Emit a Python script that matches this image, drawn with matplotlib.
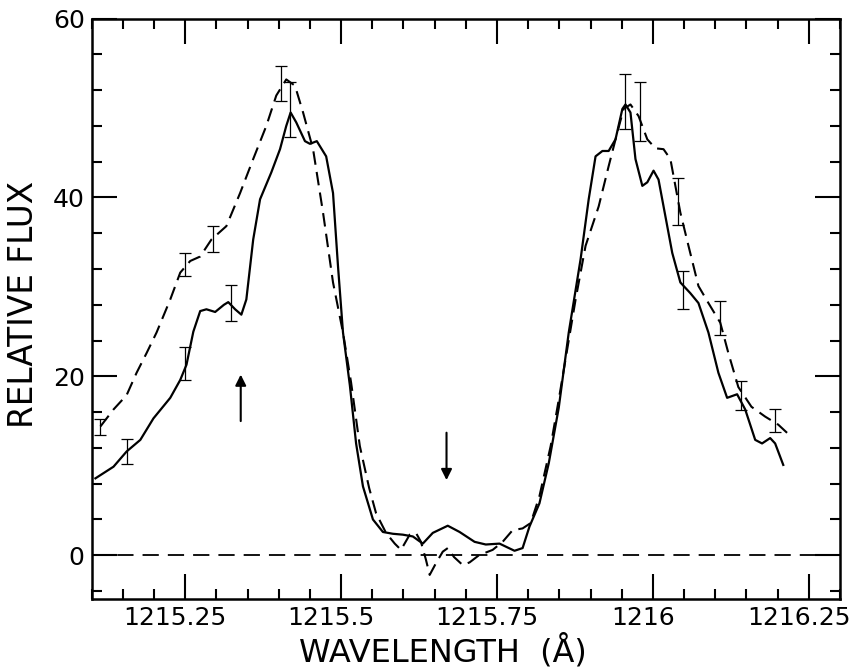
import numpy as np
import matplotlib
matplotlib.use('Agg')
import matplotlib.pyplot as plt
from matplotlib.ticker import MultipleLocator, FixedLocator, FixedFormatter
from matplotlib.transforms import ScaledTranslation

# observed profile (solid)
obs_wave = [1215.106, 1215.135, 1215.156, 1215.178, 1215.199, 1215.226, 1215.242, 1215.252,
            1215.263, 1215.274, 1215.284, 1215.298, 1215.312, 1215.319, 1215.330, 1215.340,
            1215.348, 1215.359, 1215.370, 1215.388, 1215.402, 1215.412, 1215.419, 1215.428,
            1215.442, 1215.450, 1215.461, 1215.476, 1215.487, 1215.495, 1215.503, 1215.514,
            1215.524, 1215.535, 1215.551, 1215.567, 1215.583, 1215.599, 1215.615, 1215.631,
            1215.647, 1215.671, 1215.690, 1215.714, 1215.732, 1215.754, 1215.778, 1215.791,
            1215.802, 1215.818, 1215.833, 1215.849, 1215.865, 1215.884, 1215.897, 1215.908,
            1215.919, 1215.929, 1215.940, 1215.951, 1215.956, 1215.964, 1215.972, 1215.983,
            1215.991, 1216.001, 1216.009, 1216.020, 1216.031, 1216.044, 1216.060, 1216.073,
            1216.089, 1216.105, 1216.119, 1216.135, 1216.148, 1216.164, 1216.175, 1216.188,
            1216.196, 1216.209]
obs_flux = [8.6, 9.9, 11.6, 12.9, 15.3, 17.6, 19.6, 21.3,
            25.0, 27.3, 27.5, 27.2, 28.0, 28.3, 27.5, 26.9,
            28.6, 35.3, 39.8, 42.8, 45.4, 48.0, 49.5, 48.4,
            46.3, 46.0, 46.3, 44.6, 40.5, 32.3, 24.9, 19.0,
            12.5, 7.7, 4.0, 2.6, 2.4, 2.3, 2.1, 1.3,
            2.5, 3.3, 2.6, 1.5, 1.2, 1.3, 0.5, 0.8,
            3.2, 5.8, 10.3, 16.5, 24.9, 33.1, 39.8, 44.6,
            45.2, 45.2, 46.5, 49.9, 50.4, 49.5, 44.3, 41.3,
            41.7, 43.0, 42.0, 37.9, 33.8, 30.5, 29.3, 28.2,
            24.9, 20.4, 17.6, 18.0, 16.3, 12.9, 12.5, 13.1,
            12.5, 10.1]

# second profile (dashed)
alt_wave = [1215.114, 1215.135, 1215.156, 1215.172, 1215.188, 1215.204, 1215.226, 1215.242,
            1215.258, 1215.274, 1215.292, 1215.316, 1215.338, 1215.359, 1215.380, 1215.396,
            1215.412, 1215.426, 1215.439, 1215.455, 1215.471, 1215.487, 1215.503, 1215.516,
            1215.530, 1215.545, 1215.556, 1215.572, 1215.586, 1215.596, 1215.610, 1215.620,
            1215.628, 1215.636, 1215.642, 1215.652, 1215.663, 1215.671, 1215.681, 1215.695,
            1215.706, 1215.721, 1215.743, 1215.759, 1215.775, 1215.791, 1215.804, 1215.818,
            1215.836, 1215.849, 1215.876, 1215.892, 1215.913, 1215.929, 1215.943, 1215.953,
            1215.964, 1215.977, 1215.991, 1216.004, 1216.017, 1216.028, 1216.036, 1216.044,
            1216.057, 1216.073, 1216.089, 1216.108, 1216.121, 1216.137, 1216.158, 1216.180,
            1216.201, 1216.218]
alt_flux = [14.4, 16.3, 17.9, 20.4, 22.6, 24.9, 28.6, 31.6,
            32.9, 33.4, 35.3, 36.8, 40.5, 44.3, 48.0, 51.4,
            53.2, 52.5, 49.5, 45.4, 38.3, 30.5, 24.9, 19.3,
            12.2, 7.5, 4.7, 2.5, 1.3, 0.6, 2.3, 2.5,
            1.5, -0.5, -2.2, -0.9, 0.4, 0.8, -0.2, -1.1,
            -0.8, 0.0, 0.6, 1.5, 2.8, 3.0, 3.6, 6.6,
            12.2, 17.4, 28.6, 34.6, 39.0, 43.5, 47.3, 49.9,
            50.4, 49.1, 46.5, 45.5, 45.4, 44.3, 41.3, 38.3,
            34.6, 30.1, 28.2, 26.0, 22.6, 18.8, 16.6, 15.5,
            14.6, 13.5]

# error bars
obs_err_wave = [1215.156, 1215.250, 1215.323, 1215.418, 1215.956, 1216.049, 1216.142]
obs_err_flux = [11.6, 21.45, 28.2, 49.85, 50.75, 29.65, 17.85]
obs_err = [1.4, 1.85, 2.0, 3.05, 3.05, 2.15, 1.65]

alt_err_wave = [1215.114, 1215.250, 1215.294, 1215.404, 1215.980, 1216.040, 1216.108, 1216.196]
alt_err_flux = [14.3, 32.5, 35.35, 52.75, 49.6, 39.55, 26.5, 15.05]
alt_err = [0.9, 1.3, 1.45, 1.95, 3.3, 2.65, 1.9, 1.25]

# arrows: (wavelength, tail, head)
arrows = [(1215.339, 15.0, 20.2), (1215.669, 13.7, 8.4)]

xticks = [1215.25, 1215.5, 1215.75, 1216.0, 1216.25]
xtick_labels = ['1215.25', '1215.5', '1215.75', '1216', '1216.25']
yticks = [0, 20, 40, 60]

fig = plt.figure(figsize=(8.49, 6.72), dpi=100)
ax = fig.add_axes([0.108, 0.1092, 0.8814, 0.8631])

ax.plot(obs_wave, obs_flux, color='black', lw=1.6)
dash_line, = ax.plot(alt_wave, alt_flux, color='black', lw=1.5)
dash_line.set_dashes([6.5, 3.5])

ax.errorbar(obs_err_wave, obs_err_flux, yerr=obs_err, fmt='none', ecolor='black',
            elinewidth=0.9, capsize=4.5, capthick=0.9)
ax.errorbar(alt_err_wave, alt_err_flux, yerr=alt_err, fmt='none', ecolor='black',
            elinewidth=0.9, capsize=4.5, capthick=0.9)

# zero level
zero_line = ax.axhline(0, color='black', lw=1.3)
zero_line.set_dashes([9, 5])

for wx, y0, y1 in arrows:
    ax.annotate('', xy=(wx, y1), xytext=(wx, y0),
                arrowprops=dict(arrowstyle='-|>', color='black', lw=1.5,
                                mutation_scale=16, shrinkA=0, shrinkB=0))

ax.set_xlim(1215.10, 1216.30)
ax.set_ylim(-4.85, 60)

ax.xaxis.set_major_locator(FixedLocator(xticks))
ax.xaxis.set_major_formatter(FixedFormatter(xtick_labels))
ax.xaxis.set_minor_locator(MultipleLocator(0.05))
ax.yaxis.set_major_locator(FixedLocator(yticks))
ax.yaxis.set_minor_locator(MultipleLocator(4))

ax.tick_params(which='both', direction='in', top=True, right=True, width=1.5,
               labelsize=18, pad=5)
ax.tick_params(which='major', length=18)
ax.tick_params(which='minor', length=7)
for sp in ax.spines.values():
    sp.set_linewidth(1.8)

# tick labels in the original sit a little left of their ticks
shift = ScaledTranslation(-10 / 100, 0, fig.dpi_scale_trans)
for lab in ax.get_xticklabels():
    lab.set_transform(lab.get_transform() + shift)

fig.text(442.5 / 849, 10 / 672, 'WAVELENGTH  (Å)', fontsize=23, ha='center', va='baseline')
fig.text(24 / 849, 1 - 304 / 672, 'RELATIVE FLUX', fontsize=23.5, rotation=90,
         ha='center', va='center')

fig.savefig('out.png', dpi=100)
